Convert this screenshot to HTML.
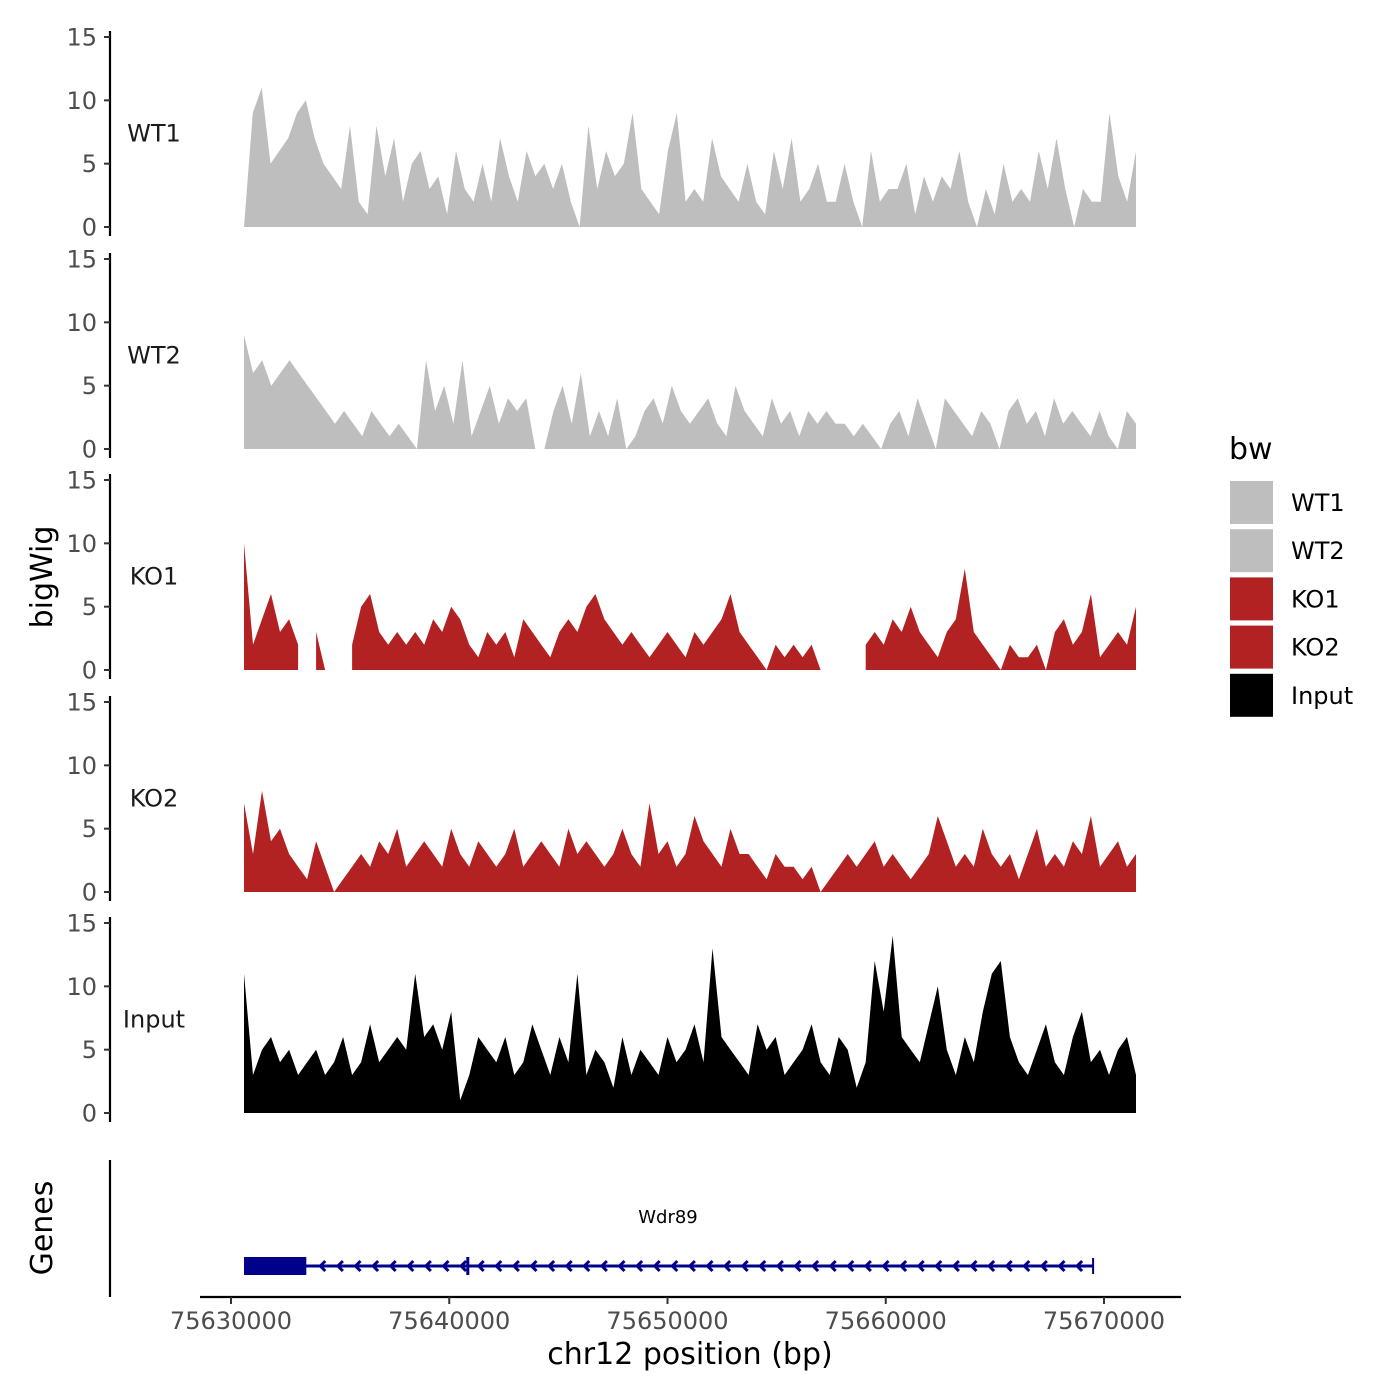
<!DOCTYPE html>
<html><head><meta charset="utf-8"><style>
body{margin:0;background:#fff;}
svg{display:block;font-family:"DejaVu Sans","Liberation Sans",sans-serif;}
</style></head><body>
<svg id="chart" width="1400" height="1400" viewBox="0 0 1400 1400"></svg>
<script>
const trackNames = ["WT1","WT2","KO1","KO2","Input"];
const trackColors = ["#bebebe","#bebebe","#b22222","#b22222","#000000"];
const wt1Values = [0,9,11,5,6,7,9,10,7,5,4,3,8,2,1,8,4,7,2,5,6,3,4,1,6,3,2,5,2,7,4,2,6,4,5,3,5,2,0,8,3,6,4,5,9,3,2,1,6,9,2,3,2,7,4,3,2,5,2,1,6,3,7,2,3,5,2,2,5,2,0,6,2,3,3,5,1,4,2,4,3,6,2,0,3,1,5,2,3,2,6,3,7,3,0,3,2,2,9,4,2,6];
const wt2Values = [9,6,7,5,6,7,6,5,4,3,2,3,2,1,3,2,1,2,1,0,7,3,5,2,7,1,3,5,2,4,3,4,0,0,3,5,2,6,1,3,1,4,0,1,3,4,2,5,3,2,3,4,2,1,5,3,2,1,4,2,3,1,3,2,3,2,2,1,2,1,0,2,3,1,4,2,0,4,3,2,1,3,2,0,3,4,2,3,1,4,2,3,2,1,3,1,0,3,2];
const ko1Values = [10,2,4,6,3,4,2,null,3,0,null,null,2,5,6,3,2,3,2,3,2,4,3,5,4,2,1,3,2,3,1,4,3,2,1,3,4,3,5,6,4,3,2,3,2,1,2,3,2,1,3,2,3,4,6,3,2,1,0,2,1,2,1,2,0,null,null,null,null,2,3,2,4,3,5,3,2,1,3,4,8,3,2,1,0,2,1,1,2,0,3,4,2,3,6,1,2,3,2,5];
const ko2Values = [7,3,8,4,5,3,2,1,4,2,0,1,2,3,2,4,3,5,2,3,4,3,2,5,3,2,4,3,2,3,5,2,3,4,3,2,5,3,4,3,2,3,5,3,2,7,3,4,2,3,6,4,3,2,5,3,3,2,1,3,2,2,1,2,0,1,2,3,2,3,4,2,3,2,1,2,3,6,4,2,3,2,5,3,2,3,1,3,5,2,3,2,4,3,6,2,3,4,2,3];
const inputValues = [11,3,5,6,4,5,3,4,5,3,4,6,3,4,7,4,5,6,5,11,6,7,5,8,1,3,6,5,4,6,3,4,7,5,3,6,4,11,3,5,4,2,6,3,5,4,3,6,4,5,7,4,13,6,5,4,3,7,5,6,3,4,5,7,4,3,6,5,2,4,12,8,14,6,5,4,7,10,5,3,6,4,8,11,12,6,4,3,5,7,4,3,6,8,4,5,3,5,6,3];
const trackValues = [wt1Values,wt2Values,ko1Values,ko2Values,inputValues];
const yTicks = [0,5,10,15];
const xTicks = [75630000,75640000,75650000,75660000,75670000];
const xTickLabels = ["75630000","75640000","75650000","75660000","75670000"];
const dataStart = 75630596, dataEnd = 75671466;
const geneStart = 75630596, geneEnd = 75669500, cdsEnd = 75633450, exonMark = 75640850;

const NS="http://www.w3.org/2000/svg";
const svg=document.getElementById('chart');
function el(t,a,p){const e=document.createElementNS(NS,t);for(const k in a)e.setAttribute(k,a[k]);(p||svg).appendChild(e);return e;}
function xs(v){return 231+(v-75630000)*873/40000;}
const zeros=[227,449,670,892,1113];
function ys(i,v){return zeros[i]-v*190/15;}

trackValues.forEach((vals,i)=>{
  const g=el('g',{});
  
  
  const ax=el('line',{x1:110,x2:110,y1:zeros[i]-196,y2:zeros[i]+9,stroke:'#000','stroke-width':2.2},g);
  
  
  yTicks.forEach(t=>{
    const y=ys(i,t);
    el('line',{x1:104,x2:110,y1:y,y2:y,stroke:'#333','stroke-width':2},g);
    const tx=el('text',{x:97,y:y+8.5,'text-anchor':'end','font-size':24,fill:'#4d4d4d'},g);
    tx.textContent=t;
    
    
  });
  const lab=el('text',{x:154,y:ys(i,7)+3,'text-anchor':'middle','font-size':24,fill:'#1a1a1a'},g);
  lab.textContent=trackNames[i];
  
  
  const n=vals.length;
  const step=(dataEnd-dataStart)/(n-1);
  let seg=[];
  const flush=()=>{
    if(seg.length>0){
      let d='M'+seg[0][0]+','+zeros[i];
      seg.forEach(p=>d+='L'+p[0]+','+p[1]);
      d+='L'+seg[seg.length-1][0]+','+zeros[i]+'Z';
      const a=el('path',{d:d,fill:trackColors[i]},g);
      
      
    }
    seg=[];
  };
  vals.forEach((v,j)=>{
    if(v===null){flush();return;}
    seg.push([xs(dataStart+j*step).toFixed(1),ys(i,v).toFixed(1)]);
  });
  flush();
});

const yt=el('text',{x:0,y:0,transform:'translate(52,577) rotate(-90)','text-anchor':'middle','font-size':30,fill:'#000'});
yt.textContent='bigWig';



const ga=el('line',{x1:110,x2:110,y1:1160,y2:1297,stroke:'#000','stroke-width':2.2});


const gt=el('text',{x:0,y:0,transform:'translate(52,1228) rotate(-90)','text-anchor':'middle','font-size':30,fill:'#000'});
gt.textContent='Genes';


const gene=el('g',{});


el('line',{x1:xs(geneStart),x2:xs(geneEnd),y1:1266,y2:1266,stroke:'#00008b','stroke-width':3},gene);
el('rect',{x:xs(geneStart),y:1257,width:xs(cdsEnd)-xs(geneStart),height:18,fill:'#00008b'},gene);
el('line',{x1:xs(exonMark),x2:xs(exonMark),y1:1257,y2:1275,stroke:'#00008b','stroke-width':3},gene);
el('line',{x1:xs(geneEnd),x2:xs(geneEnd),y1:1258,y2:1274,stroke:'#00008b','stroke-width':2},gene);
for(let x=xs(cdsEnd)+14;x<xs(geneEnd)-5;x+=17.6){
  el('path',{d:`M${x+5},${1261}L${x},${1266}L${x+5},${1271}`,fill:'none',stroke:'#00008b','stroke-width':3},gene);
}
const gl=el('text',{x:668,y:1223,'text-anchor':'middle','font-size':18,fill:'#000'},gene);
gl.textContent='Wdr89';

const xa=el('line',{x1:200,x2:1181,y1:1297,y2:1297,stroke:'#000','stroke-width':2.2});


xTicks.forEach((t,k)=>{
  const x=xs(t);
  el('line',{x1:x,x2:x,y1:1297,y2:1304,stroke:'#333','stroke-width':2});
  const tx=el('text',{x:x,y:1329,'text-anchor':'middle','font-size':24,fill:'#4d4d4d'});
  tx.textContent=xTickLabels[k];
  
  
});
const xt=el('text',{x:690,y:1364,'text-anchor':'middle','font-size':30,fill:'#000'});
xt.textContent='chr12 position (bp)';



const lg=el('g',{});


const lt=el('text',{x:1229,y:459,'font-size':30,fill:'#000'},lg);
lt.textContent='bw';
trackNames.forEach((n,k)=>{
  const y=481+k*48.2;
  const e=el('g',{},lg);
  
  
  el('rect',{x:1230,y:y,width:43,height:43,fill:trackColors[k]},e);
  const t=el('text',{x:1291,y:y+30,'font-size':24,fill:'#000'},e);
  t.textContent=n;
});
</script>
</body></html>
